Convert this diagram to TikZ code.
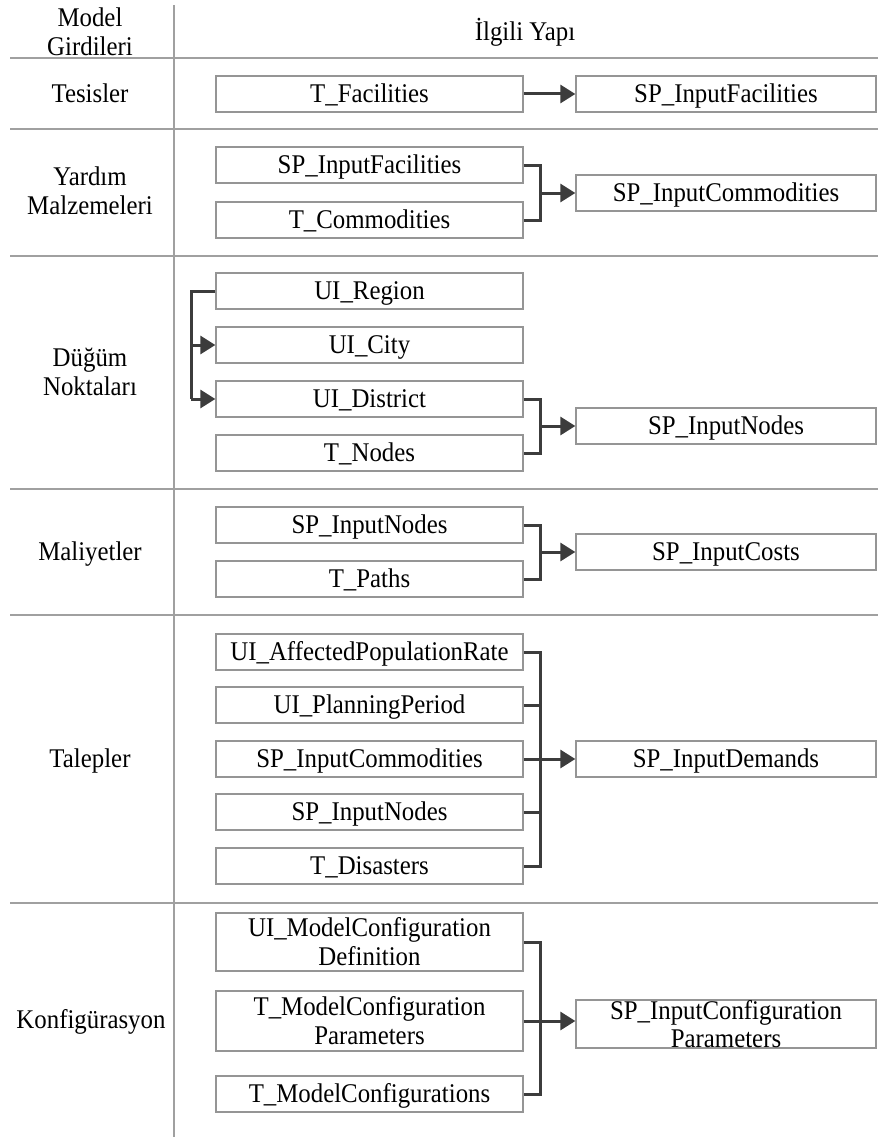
\documentclass[tikz,border=0pt]{standalone}
\usepackage{fontspec}
\setmainfont{Liberation Serif}[FakeStretch=0.92]
\usetikzlibrary{arrows.meta}
\definecolor{boxgray}{HTML}{959595}
\definecolor{sepgray}{HTML}{A0A0A0}
\definecolor{conngray}{HTML}{3C3C3C}
\begin{document}
\begin{tikzpicture}[x=1pt,y=-1pt,
  txtm/.style={font=\fontsize{27}{29}\selectfont, align=center, inner sep=0pt},
  txt/.style={txtm, text height=17.5pt, text depth=0pt},
  boxbase/.style={draw=boxgray, line width=1.3pt, fill=white, minimum height=36pt},
  lbox/.style={txt, boxbase, minimum width=307pt},
  rbox/.style={txt, boxbase, minimum width=300pt},
  lboxm/.style={txtm, boxbase, minimum width=307pt},
  rboxm/.style={txtm, boxbase, minimum width=300pt},
  conn/.style={draw=conngray, line width=3pt},
  arr/.style={conn, -{Triangle[length=15pt,width=18pt]}},
  sep/.style={draw=sepgray, line width=2.2pt},
  vsep/.style={draw=sepgray, line width=1.5pt}]
\useasboundingbox (0,0) rectangle (878,1137);
\coordinate (bus) at (540,0);
\coordinate (lbus) at (191,0);
% grid lines
\draw[vsep] (174,5) -- (174,1137);
\foreach \yy in {58,129,256,489,615,903} \draw[sep] (10,\yy) -- (878,\yy);
% header
\node[txtm] (h1) at (90,32) {Model\\Girdileri};
\node[txt] (h2) at (525,32) {İlgili Yapı};
% Tesisler
\node[txt] (l1) at (90,94) {Tesisler};
\node[lbox] (t1) at (369.5,94) {T\_Facilities};
\node[rbox] (t2) at (726,94) {SP\_InputFacilities};
\draw[arr] (t1.east) -- (t2.west);
% Yardim
\node[txtm] (l2) at (90,191) {Yardım\\Malzemeleri};
\node[lbox] (y1) at (369.5,165) {SP\_InputFacilities};
\node[lbox] (y2) at (369.5,220) {T\_Commodities};
\node[rbox] (y3) at (726,193) {SP\_InputCommodities};
\draw[conn] (y1.east) -- (y1.east -| bus) -- (y2.east -| bus) -- (y2.east);
\draw[arr] (y3.west -| bus) -- (y3.west);
% Dugum
\node[txtm] (l3) at (90,372) {Düğüm\\Noktaları};
\node[lbox] (d1) at (369.5,291) {UI\_Region};
\node[lbox] (d2) at (369.5,345) {UI\_City};
\node[lbox] (d3) at (369.5,399) {UI\_District};
\node[lbox] (d4) at (369.5,453) {T\_Nodes};
\node[rbox] (d5) at (726,426) {SP\_InputNodes};
\draw[conn] (d1.west) -- (d1.west -| lbus) -- (d3.west -| lbus);
\draw[arr] (d2.west -| lbus) -- (d2.west);
\draw[arr] (d3.west -| lbus) -- (d3.west);
\draw[conn] (d3.east) -- (d3.east -| bus) -- (d4.east -| bus) -- (d4.east);
\draw[arr] (d5.west -| bus) -- (d5.west);
% Maliyetler
\node[txt] (l4) at (90,552) {Maliyetler};
\node[lbox] (m1) at (369.5,525) {SP\_InputNodes};
\node[lbox] (m2) at (369.5,579) {T\_Paths};
\node[rbox] (m3) at (726,552) {SP\_InputCosts};
\draw[conn] (m1.east) -- (m1.east -| bus) -- (m2.east -| bus) -- (m2.east);
\draw[arr] (m3.west -| bus) -- (m3.west);
% Talepler
\node[txt] (l5) at (90,759) {Talepler};
\node[lbox] (p1) at (369.5,652) {UI\_AffectedPopulationRate};
\node[lbox] (p2) at (369.5,705) {UI\_PlanningPeriod};
\node[lbox] (p3) at (369.5,759) {SP\_InputCommodities};
\node[lbox] (p4) at (369.5,812) {SP\_InputNodes};
\node[lbox] (p5) at (369.5,866) {T\_Disasters};
\node[rbox] (p6) at (726,759) {SP\_InputDemands};
\draw[conn] (p1.east) -- (p1.east -| bus) -- (p5.east -| bus) -- (p5.east);
\draw[conn] (p2.east) -- (p2.east -| bus);
\draw[conn] (p3.east) -- (p3.east -| bus);
\draw[conn] (p4.east) -- (p4.east -| bus);
\draw[arr] (p6.west -| bus) -- (p6.west);
% Konfigurasyon
\node[txt] (l6) at (91,1020) {Konfigürasyon};
\node[lboxm, minimum height=58pt] (k1) at (369.5,942) {UI\_ModelConfiguration\\Definition};
\node[lboxm, minimum height=60pt] (k2) at (369.5,1021) {T\_ModelConfiguration\\Parameters};
\node[lbox] (k3) at (369.5,1094) {T\_ModelConfigurations};
\node[rboxm, minimum height=48pt, font=\fontsize{27}{28}\selectfont] (k4) at (726,1024) {SP\_InputConfiguration\\Parameters};
\draw[conn] (k1.east) -- (k1.east -| bus) -- (k3.east -| bus) -- (k3.east);
\draw[conn] (k2.east) -- (k2.east -| bus);
\draw[arr] (k2.east -| bus) -- (k2.east -| k4.west);
\end{tikzpicture}
\end{document}
